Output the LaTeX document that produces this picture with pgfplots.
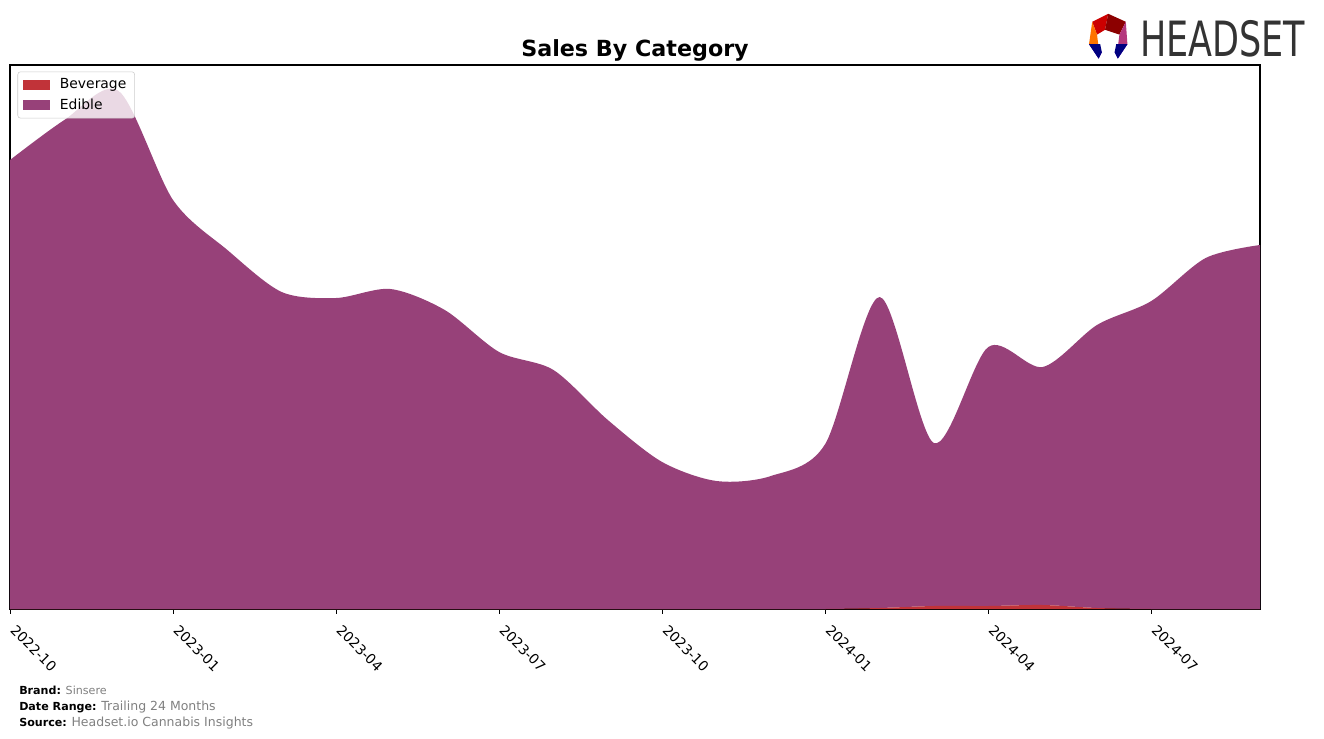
\documentclass[border=0pt]{standalone}
\usepackage{fontspec}
\setmainfont{DejaVu Sans}
\usepackage{pgfplots}
\pgfplotsset{compat=1.18}
\definecolor{edible}{RGB}{151,65,121}
\definecolor{beverage}{RGB}{193,51,57}
\definecolor{footgray}{RGB}{128,128,128}
\definecolor{logogray}{RGB}{51,51,51}
\begin{document}
\begin{tikzpicture}[x=0.72pt,y=0.72pt]
\useasboundingbox (-10,-129) rectangle (1314,609);
\begin{axis}[
  at={(0,0)}, anchor=south west,
  scale only axis, width=900pt, height=391.68pt,
  xmin=0, xmax=23, ymin=0, ymax=544,
  stack plots=y,
  axis line style={black, line width=0.8pt},
  xtick={0,3,6,9,12,15,18,21},
  xticklabels={2022-10,2023-01,2023-04,2023-07,2023-10,2024-01,2024-04,2024-07},
  xticklabel style={rotate=-45, anchor=north west, font=\fontsize{10}{12}\selectfont, inner sep=1pt, xshift=7.5pt, yshift=-0.5pt},
  ytick=\empty,
  tick align=outside,
  major tick length=3.5pt,
  xtick style={black, line width=0.6pt},
  tick pos=bottom,
  legend style={at={(0.006,0.988)}, anchor=north west, draw=black!20, rounded corners=2pt, fill=white, fill opacity=0.8, text opacity=1, font=\fontsize{10}{12}\selectfont, row sep=1.5pt, column sep=5pt, inner xsep=4pt, inner ysep=3pt},
  legend cell align=left,
  area legend,
  legend image code/.code={\fill[#1, sharp corners, fill opacity=1] (0cm,-0.12cm) rectangle (0.68cm,0.13cm);},
]
\addplot[draw=none, fill=beverage, smooth] coordinates {
(0,0) (1,0) (2,0) (3,0) (4,0) (5,0) (6,0) (7,0) (8,0) (9,0) (10,0) (11,0)
(12,0) (13,0) (14,0) (15,0) (16,1) (17,3) (18,3) (19,4) (20,1) (21,0) (22,0) (23,0)} \closedcycle;
\addlegendentry{Beverage}
\addplot[draw=none, fill=edible, smooth] coordinates {
(0,449) (1,489) (2,518) (3,409) (4,359) (5,317) (6,311) (7,320) (8,299) (9,257) (10,239) (11,189)
(12,147) (13,128) (14,133) (15,165) (16,311) (17,163) (18,259) (19,238) (20,283) (21,308) (22,351) (23,364)} \closedcycle;
\addlegendentry{Edible}
\end{axis}
% title
\node[font=\bfseries\fontsize{16}{18}\selectfont] at (625,559) {Sales By Category};
% footer
\node[anchor=base west, inner sep=0pt, font=\fontsize{8}{9}\selectfont] at (9,-85) {\textbf{Brand:} \textcolor{footgray}{Sinsere}};
\node[anchor=base west, inner sep=0pt, font=\fontsize{8}{9}\selectfont] at (9,-101) {\textbf{Date Range:} \textcolor{footgray}{\fontsize{9}{10}\selectfont Trailing 24 Months}};
\node[anchor=base west, inner sep=0pt, font=\fontsize{8}{9}\selectfont] at (9,-117) {\textbf{Source:} \textcolor{footgray}{\fontsize{9}{10}\selectfont Headset.io Cannabis Insights}};
% logo
\begin{scope}[shift={(1095,560)}, scale=1.6]
\fill[red!80!black] (-8,17) -- (2,22) -- (0,12) -- (-5,9) -- cycle;
\fill[red!55!black] (2,22) -- (13,17) -- (9,9) -- (0,12) -- cycle;
\fill[magenta!70!black] (13,17) -- (14,3) -- (8,1) -- (9,9) -- cycle;
\fill[orange!90!red] (-8,17) -- (-10,3) -- (-4,1) -- (-5,9) -- cycle;
\fill[blue!60!purple] (-10,3) -- (-4,-6) -- (-2,-2) -- (-4,1) -- cycle;
\fill[blue!50!black] (-4,-6) -- (-2,-2) -- (-3,3) -- (-10,3) -- cycle;
\fill[blue!60!purple] (14,3) -- (8,-6) -- (6,-2) -- (8,1) -- cycle;
\fill[blue!50!black] (8,-6) -- (6,-2) -- (7,3) -- (14,3) -- cycle;
\end{scope}
\node[anchor=west, inner sep=0pt, text=logogray] at (1130,570) {\scalebox{0.72}[1]{\fontsize{35}{36}\selectfont HEADSET}};
\end{tikzpicture}
\end{document}
